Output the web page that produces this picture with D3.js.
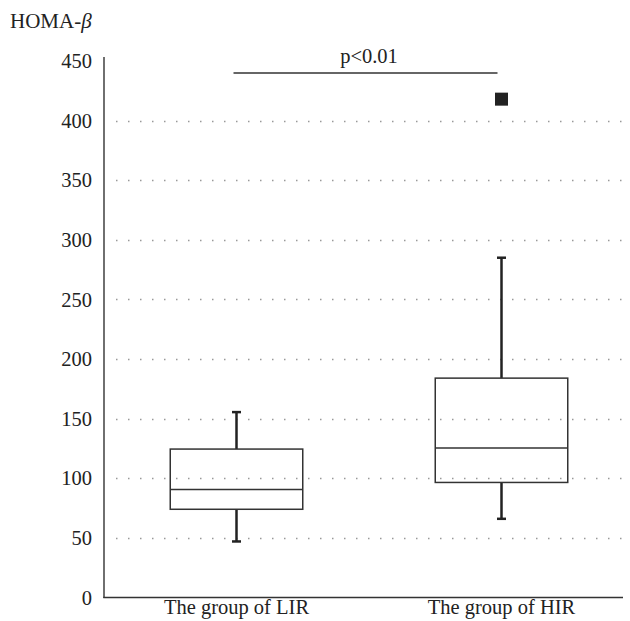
<!DOCTYPE html>
<html><head><meta charset="utf-8">
<script src="https://cdn.jsdelivr.net/npm/d3@7"></script>
<style>body{margin:0;background:#fff}svg{display:block}</style>
</head><body>
<script>
const categories = ["The group of LIR", "The group of HIR"];
const whiskerLow = [47, 66];
const q1 = [74, 96.5];
const median = [90.5, 125.5];
const q3 = [124.5, 184];
const whiskerHigh = [155.5, 285];
const outliers = [[], [418]];
const yTicks = [0, 50, 100, 150, 200, 250, 300, 350, 400, 450];
const gridTicks = [50, 100, 150, 200, 250, 300, 350, 400];
const yTitle = "HOMA-";
const sigLabel = "p<0.01";

const W = 630, H = 621;
const FS = "20.5px";
const FF = "'Liberation Serif', 'Times New Roman', serif";
const svg = d3.select("body").append("svg").attr("width", W).attr("height", H);
const y = d3.scaleLinear().domain([0, 450]).range([597.5, 61]);
const x = d3.scaleBand().domain(categories).range([104, 634]);
const bw = x.bandwidth() * 0.5;
const cx = c => x(c) + x.bandwidth() / 2;

// grid
svg.append("g").selectAll("line").data(gridTicks).join("line")
  .attr("x1", 116).attr("x2", 623).attr("y1", d => Math.round(y(d)) + 0.5).attr("y2", d => Math.round(y(d)) + 0.5)
  .attr("stroke", "#999").attr("stroke-width", 1.5).attr("stroke-dasharray", "1.5,10.5");

// y axis
const yAxis = svg.append("g").attr("transform", "translate(104,0)")
  .call(d3.axisLeft(y).tickValues(yTicks).tickSize(0).tickPadding(12));
yAxis.attr("font-family", FF).attr("font-size", FS);
yAxis.select(".domain").remove();
yAxis.selectAll("text").style("font-family", FF).style("font-size", FS).attr("fill", "#222");
svg.append("line").attr("x1", 104).attr("x2", 104).attr("y1", 57).attr("y2", 598)
  .attr("stroke", "#333").attr("stroke-width", 1.4);
// x axis
const xAxis = svg.append("g").attr("transform", "translate(0,597.5)")
  .call(d3.axisBottom(x).tickSize(0).tickPadding(0));
xAxis.attr("font-family", FF).attr("font-size", FS);
xAxis.select(".domain").remove();
xAxis.selectAll("text").style("font-family", FF).style("font-size", FS).attr("dy", "16px").attr("fill", "#222");
svg.append("line").attr("x1", 103.3).attr("x2", 623).attr("y1", 597.5).attr("y2", 597.5)
  .attr("stroke", "#333").attr("stroke-width", 1.4);

// boxes
const data = categories.map((c, i) => ({c, lo: whiskerLow[i], q1: q1[i], med: median[i], q3: q3[i], hi: whiskerHigh[i], out: outliers[i]}));
const g = svg.append("g").selectAll("g").data(data).join("g");
g.append("line").attr("x1", d => cx(d.c)).attr("x2", d => cx(d.c)).attr("y1", d => y(d.q3)).attr("y2", d => y(d.hi))
  .attr("stroke", "#222").attr("stroke-width", 2.5);
g.append("line").attr("x1", d => cx(d.c)).attr("x2", d => cx(d.c)).attr("y1", d => y(d.q1)).attr("y2", d => y(d.lo))
  .attr("stroke", "#222").attr("stroke-width", 2.5);
g.append("line").attr("x1", d => cx(d.c) - 4.5).attr("x2", d => cx(d.c) + 4.5).attr("y1", d => y(d.hi)).attr("y2", d => y(d.hi))
  .attr("stroke", "#222").attr("stroke-width", 2.5);
g.append("line").attr("x1", d => cx(d.c) - 4.5).attr("x2", d => cx(d.c) + 4.5).attr("y1", d => y(d.lo)).attr("y2", d => y(d.lo))
  .attr("stroke", "#222").attr("stroke-width", 2.5);
g.append("rect").attr("x", d => cx(d.c) - bw / 2).attr("width", bw)
  .attr("y", d => y(d.q3)).attr("height", d => y(d.q1) - y(d.q3))
  .attr("fill", "none").attr("stroke", "#333").attr("stroke-width", 1.5);
g.append("line").attr("x1", d => cx(d.c) - bw / 2).attr("x2", d => cx(d.c) + bw / 2).attr("y1", d => y(d.med)).attr("y2", d => y(d.med))
  .attr("stroke", "#333").attr("stroke-width", 1.5);
g.selectAll("rect.out").data(d => d.out.map(v => ({c: d.c, v}))).join("rect").attr("class", "out")
  .attr("x", d => cx(d.c) - 6.5).attr("y", d => y(d.v) - 6.5).attr("width", 13).attr("height", 13).attr("fill", "#222");

// significance
svg.append("line").attr("x1", 233.5).attr("x2", 497.5).attr("y1", 73).attr("y2", 73).attr("stroke", "#333").attr("stroke-width", 1.4);
svg.append("text").attr("x", 369).attr("y", 63).attr("text-anchor", "middle")
  .style("font-family", FF).style("font-size", FS).attr("fill", "#222").text(sigLabel);

// title
const t = svg.append("text").attr("x", 10).attr("y", 28).style("font-family", FF).style("font-size", "21px").attr("fill", "#222");
t.append("tspan").text(yTitle);
t.append("tspan").attr("font-style", "italic").text("β");
</script>
</body></html>
